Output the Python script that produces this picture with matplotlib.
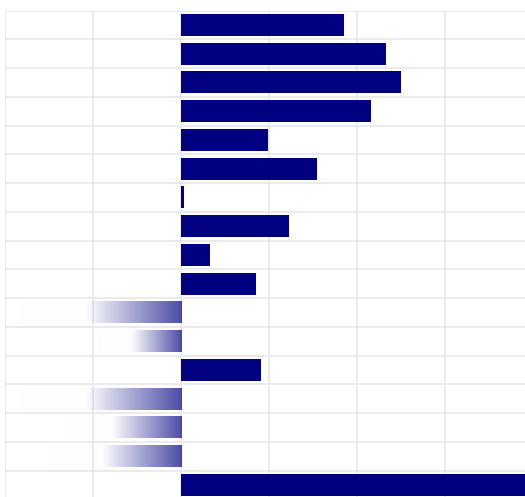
import numpy as np
import matplotlib
matplotlib.use("Agg")
import matplotlib.pyplot as plt

# Data (one value per row, top to bottom)
categories = list(range(17))
values = [1.86, 2.33, 2.51, 2.17, 0.99, 1.55, 0.045, 1.23, 0.34, 0.86,
          -1.82, -0.95, 0.91, -1.82, -1.34, -1.52, 7.35]
x_ticks = [-2, -1, 0, 1, 2, 3, 4]

W, H = 525, 497
fig = plt.figure(figsize=(W / 100, H / 100), dpi=100)
# axes placed so that x=-2 sits at 4.5px, 88px per unit; rows 28.75px tall
left_px, unit_px = 4.5, 88.0
top_px, row_px = 10.5, 28.75
xmin, xmax = -2, 4
ax_w = (xmax - xmin) * unit_px
ax_h = len(categories) * row_px
ax = fig.add_axes([left_px / W, (H - top_px - ax_h) / H, ax_w / W, ax_h / H])

navy = np.array([0, 0, 128]) / 255.0
bar_h = 0.765

for i, v in zip(categories, values):
    if v >= 0:
        ax.barh(i, v, height=bar_h, color=navy, zorder=3)
    else:
        n = 256
        t = np.linspace(0, 1, n)  # 0 at bar end, 1 at zero
        alpha = np.where(t < 0.41, 0.01, 0.01 + 0.69 * (t - 0.41) / 0.59)
        img = np.zeros((1, n, 4))
        img[0, :, :3] = navy
        img[0, :, 3] = alpha
        ax.imshow(img, extent=[v, 0.012, i + bar_h / 2, i - bar_h / 2],
                  aspect="auto", interpolation="bilinear", zorder=3)

ax.set_xlim(xmin, xmax)
ax.set_ylim(len(categories) - 0.5, -0.5)
ax.set_xticks(x_ticks)
ax.set_yticks([k - 0.5 for k in range(len(categories) + 1)])
ax.grid(True, color="#e7e7e7", linewidth=1.2, zorder=0)
ax.set_axisbelow(True)
ax.tick_params(length=0, labelbottom=False, labelleft=False)
for s in ax.spines.values():
    s.set_visible(False)

fig.savefig("out.png", dpi=100)
